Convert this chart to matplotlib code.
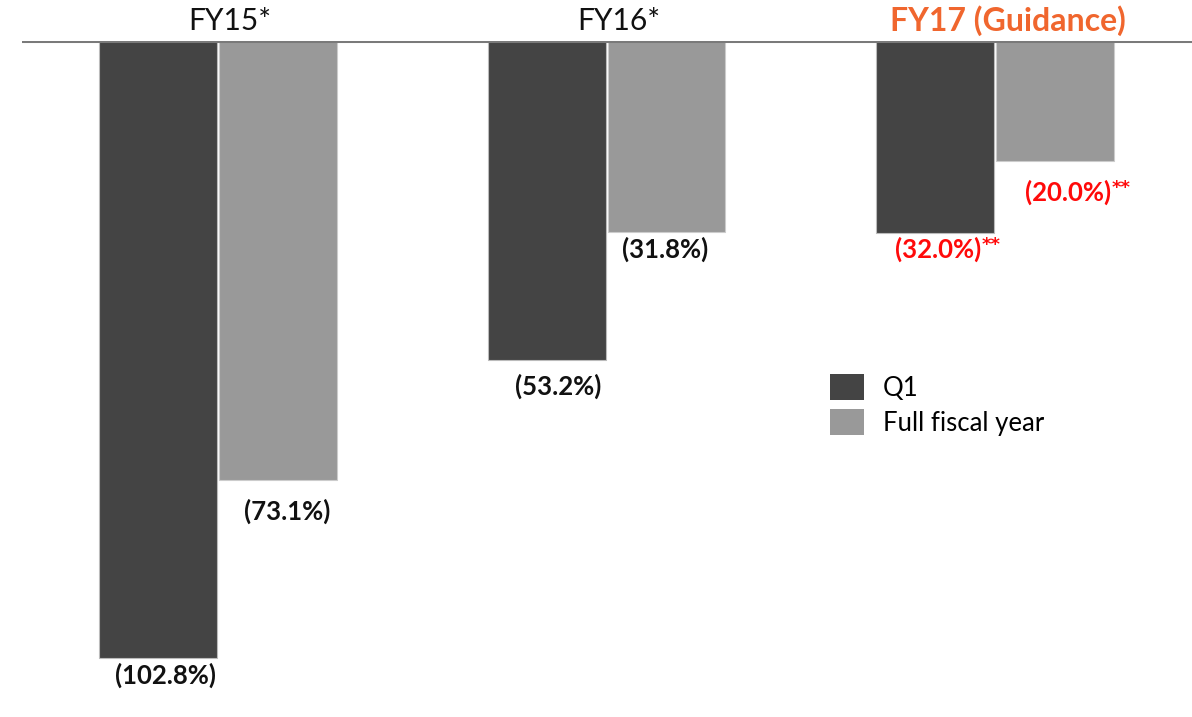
import matplotlib.pyplot as plt
import numpy as np

plt.rcParams['font.family'] = ['Lato', 'DejaVu Sans']

# Net margin figures (negative values, shown in parentheses)
periods = ["FY15*", "FY16*", "FY17 (Guidance)"]
q1_values = [102.8, 53.2, 32.0]
full_year_values = [73.1, 31.8, 20.0]
series_names = ["Q1", "Full fiscal year"]
guidance_flags = [False, False, True]

dark = "#444444"
light = "#999999"
orange = "#F0662E"
red = "#FF0A0A"

fig = plt.figure(figsize=(11.92, 7.17), dpi=100)
W, H = 1192, 717
top_px, bottom_px = 41, 701
ax = fig.add_axes([22 / W, 1 - bottom_px / H, (W - 22) / W, (bottom_px - top_px) / H])

x = np.arange(len(periods))
width = 0.3037
offset = 0.1544

q1_bars = ax.bar(x - offset, [-v for v in q1_values], width, color=dark,
                 edgecolor="#bbbbbb", linewidth=0.8, label=series_names[0])
fy_bars = ax.bar(x + offset, [-v for v in full_year_values], width, color=light,
                 edgecolor="#cccccc", linewidth=0.8, label=series_names[1])

ax.set_xlim(-0.5045, 2.507)
ax.set_ylim(-110, 0)
ax.axis("off")

# top baseline
ax.axhline(0, color="#7a7a7a", linewidth=2.2, zorder=5)

px = 388.5  # pixels per category unit
py = 6.0    # pixels per percentage point


def value_label(xc, val, dx, dy, guidance):
    txt = f"({val:.1f}%)"
    y = -val - dy / py
    if guidance:
        xa = xc + dx / px
        ax.text(xa, y, txt, ha="right", va="center", fontsize=18.5,
                fontweight="bold", color=red)
        ax.text(xa + 1 / px, y + 4 / py, "**", ha="left", va="center", fontsize=13,
                fontweight="bold", color=red, family="DejaVu Sans")
    else:
        ax.text(xc + dx / px, y, txt, ha="center", va="center", fontsize=18.5,
                fontweight="bold", color="#111111")


# label offsets in pixels (dx from bar centre, dy below bar end)
q1_dx = [7, 12, 46]
q1_dy = [18, 26, 16]
fy_dx = [9, -1, 56]
fy_dy = [32, 18, 31]

for i in range(len(periods)):
    value_label(x[i] - offset, q1_values[i], q1_dx[i], q1_dy[i], guidance_flags[i])
    value_label(x[i] + offset, full_year_values[i], fy_dx[i], fy_dy[i], guidance_flags[i])

# period headers above the baseline
for i, name in enumerate(periods):
    if guidance_flags[i]:
        ax.text(x[i] + 13 / px, 20 / py, name, ha="center", va="center",
                fontsize=23, fontweight="bold", color=orange, clip_on=False)
    else:
        ax.text(x[i] + 12 / px, 20 / py, name, ha="center", va="center",
                fontsize=21.5, color="#111111", clip_on=False)

leg = fig.legend(handles=[q1_bars, fy_bars], labels=series_names,
                 loc="upper left", bbox_to_anchor=(807 / W, 1 - 351 / H),
                 frameon=False, fontsize=18.5, handlelength=1.3,
                 handleheight=1.15, handletextpad=0.75, labelspacing=0.33)
for h in leg.legend_handles:
    h.set_edgecolor("none")

fig.savefig("out.png", dpi=100, facecolor="white")
